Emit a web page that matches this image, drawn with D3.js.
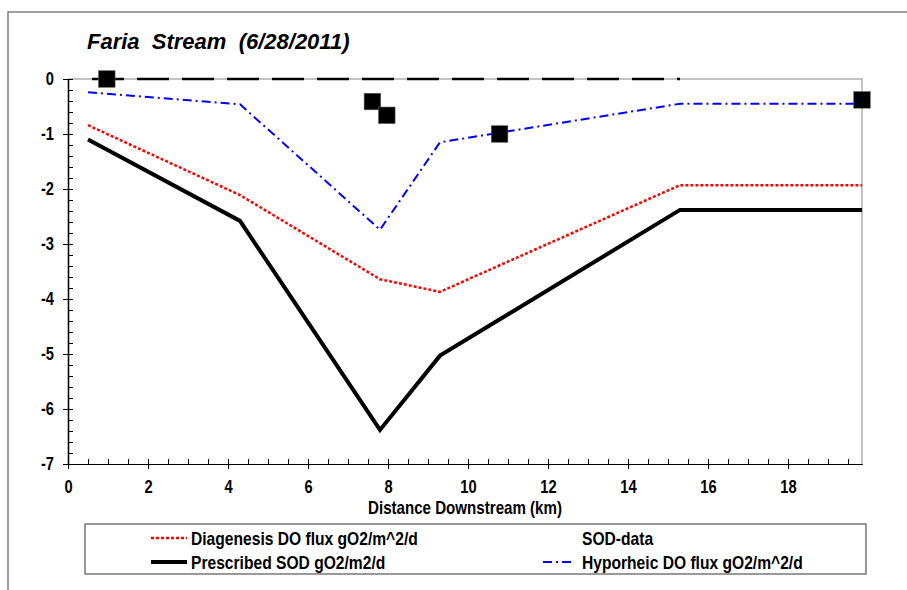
<!DOCTYPE html>
<html>
<head>
<meta charset="utf-8">
<script src="https://cdn.jsdelivr.net/npm/d3@7"></script>
<style>
  html, body { margin: 0; padding: 0; background: #fff; }
  svg text { font-family: "Liberation Sans", Arial, sans-serif; font-weight: bold; }
</style>
</head>
<body>
<svg id="chart" width="907" height="590"></svg>
<script>
// Distance downstream (km) of the model nodes
const distance = [0.5, 4.3, 7.8, 9.3, 15.3, 19.85];
// DO fluxes along the reach (gO2/m^2/d)
const diagenesis = [-0.84, -2.11, -3.64, -3.87, -1.93, -1.93];
const prescribed = [-1.1, -2.58, -6.38, -5.03, -2.38, -2.38];
const hyporheic = [-0.24, -0.46, -2.74, -1.15, -0.45, -0.45];
// zero reference series
const zeroDistance = [0.5, 4.3, 7.8, 9.3, 15.3];
const zeroFlux = [0, 0, 0, 0, 0];
// measured SOD
const sodDistance = [0.97, 7.61, 7.97, 10.79, 19.85];
const sodValue = [0, -0.41, -0.66, -1.0, -0.38];
// axis ticks
const xTicks = [0, 2, 4, 6, 8, 10, 12, 14, 16, 18];
const yTicks = [0, -1, -2, -3, -4, -5, -6, -7];

const svg = d3.select("#chart");

const plotL = 68, plotR = 862, plotT = 79, plotB = 464;
const x = d3.scaleLinear().domain([0, 19.85]).range([plotL, plotR]);
const y = d3.scaleLinear().domain([-7, 0]).range([plotB, plotT]);

// condensed bold labels: taller glyphs squeezed horizontally
const SQ = 0.84;
function narrowText(parent, px, py, str, size, anchor) {
  return parent.append("text")
    .attr("transform", `translate(${px},${py}) scale(${SQ},1)`)
    .attr("text-anchor", anchor || "start")
    .attr("font-size", size).attr("fill", "#000")
    .text(str);
}

// outer frame (left and top edges)
svg.append("path")
  .attr("d", `M8,590 L8,12 L907,12`)
  .attr("fill", "none").attr("stroke", "#808080").attr("stroke-width", 1.5);

// title
svg.append("text")
  .attr("x", 87).attr("y", 49)
  .attr("font-size", 22).attr("font-style", "italic")
  .attr("fill", "#000")
  .attr("xml:space", "preserve")
  .text("Faria  Stream  (6/28/2011)");

// plot frame top/right
svg.append("path")
  .attr("d", `M${plotL},${plotT} L${plotR},${plotT} L${plotR},${plotB}`)
  .attr("fill", "none").attr("stroke", "#b0b0b0").attr("stroke-width", 1.5);

// minor ticks
const xMinor = d3.range(0, 20, 0.5).filter(v => v % 2 !== 0);
const yMinor = d3.range(-7, 0.001, 0.2).map(v => +v.toFixed(1)).filter(v => Math.abs(v - Math.round(v)) > 1e-6);

const gx = svg.append("g").attr("transform", `translate(0,${plotB})`);
gx.call(d3.axisBottom(x).tickValues(xTicks).tickSize(5).tickFormat(d => String(d)).tickSizeOuter(0));
gx.append("g").call(d3.axisTop(x).tickValues(xTicks).tickSize(5).tickFormat("").tickSizeOuter(0));
gx.append("g").call(d3.axisTop(x).tickValues(xMinor).tickSize(5).tickFormat("").tickSizeOuter(0));

const gy = svg.append("g").attr("transform", `translate(${plotL},0)`);
gy.call(d3.axisLeft(y).tickValues(yTicks).tickSize(5).tickFormat(d => String(d)).tickSizeOuter(0));
gy.append("g").call(d3.axisRight(y).tickValues(yTicks).tickSize(5).tickFormat("").tickSizeOuter(0));
gy.append("g").call(d3.axisRight(y).tickValues(yMinor).tickSize(5).tickFormat("").tickSizeOuter(0));

svg.selectAll(".domain").attr("stroke", "#000").attr("stroke-width", 1.2);
svg.selectAll(".tick line").attr("stroke", "#000").attr("stroke-width", 1);
gx.selectAll(".tick text")
  .attr("font-size", 17.5).attr("fill", "#000")
  .attr("font-family", "'Liberation Sans', Arial, sans-serif").attr("font-weight", "bold")
  .attr("y", 0).attr("dy", 0)
  .attr("transform", `translate(0,29) scale(${SQ},1)`);
gy.selectAll(".tick text")
  .attr("font-size", 17.5).attr("fill", "#000")
  .attr("font-family", "'Liberation Sans', Arial, sans-serif").attr("font-weight", "bold")
  .attr("x", 0).attr("dy", "0.34em")
  .attr("transform", `translate(-14,0) scale(${SQ},1)`);

// axis title
narrowText(svg, (plotL + plotR) / 2, 514, "Distance Downstream (km)", 18, "middle");

const line = d3.line().x(d => x(d[0])).y(d => y(d[1]));
const zip = (a, b) => a.map((v, i) => [v, b[i]]);

// zero reference line
svg.append("path").datum(zip(zeroDistance, zeroFlux))
  .attr("d", line).attr("fill", "none")
  .attr("stroke", "#000").attr("stroke-width", 2.5)
  .attr("stroke-dasharray", "32,13").attr("stroke-dashoffset", -4);

// hyporheic
svg.append("path").datum(zip(distance, hyporheic))
  .attr("d", line).attr("fill", "none")
  .attr("stroke", "#0000ff").attr("stroke-width", 2)
  .attr("stroke-dasharray", "9,4,2,4");

// diagenesis
svg.append("path").datum(zip(distance, diagenesis))
  .attr("d", line).attr("fill", "none")
  .attr("stroke", "#ff0000").attr("stroke-width", 2.5)
  .attr("stroke-dasharray", "3,2");

// prescribed SOD
svg.append("path").datum(zip(distance, prescribed))
  .attr("d", line).attr("fill", "none")
  .attr("stroke", "#000").attr("stroke-width", 4);

// SOD data markers
const ms = 16.5;
svg.append("g").selectAll("rect").data(zip(sodDistance, sodValue)).join("rect")
  .attr("x", d => x(d[0]) - ms / 2).attr("y", d => y(d[1]) - ms / 2)
  .attr("width", ms).attr("height", ms)
  .attr("fill", "#000").attr("stroke", "#555").attr("stroke-width", 0.6);

// legend
const lg = svg.append("g");
lg.append("rect").attr("x", 85).attr("y", 524).attr("width", 781).attr("height", 50)
  .attr("fill", "#fff").attr("stroke", "#555").attr("stroke-width", 1.2);

const legendItems = [
  { label: "Diagenesis DO flux gO2/m^2/d", x0: 151, x1: 187, tx: 191, cy: 538, stroke: "#ff0000", w: 2.5, dash: "3,2" },
  { label: "SOD-data", x0: null, tx: 582, cy: 538 },
  { label: "Prescribed SOD gO2/m2/d", x0: 151, x1: 187, tx: 191, cy: 562, stroke: "#000", w: 4, dash: null },
  { label: "Hyporheic DO flux gO2/m^2/d", x0: 543, x1: 573, tx: 582, cy: 562, stroke: "#0000ff", w: 2, dash: "9,4,2,4" }
];
legendItems.forEach(it => {
  if (it.x0 !== null) {
    const l = lg.append("line").attr("x1", it.x0).attr("x2", it.x1)
      .attr("y1", it.cy).attr("y2", it.cy)
      .attr("stroke", it.stroke).attr("stroke-width", it.w);
    if (it.dash) l.attr("stroke-dasharray", it.dash);
  }
  narrowText(lg, it.tx, it.cy + 6.5, it.label, 18.6, "start");
});
</script>
</body>
</html>
